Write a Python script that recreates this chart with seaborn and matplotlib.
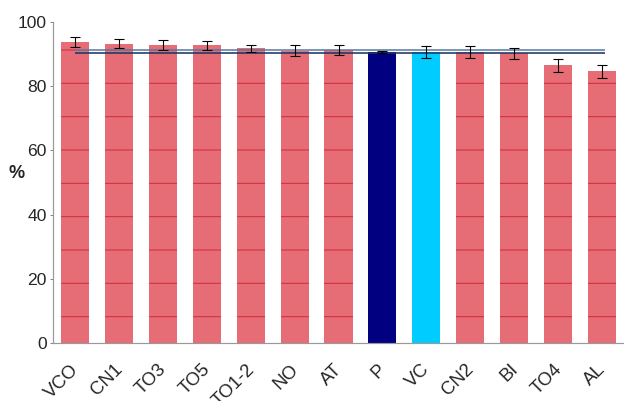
import numpy as np
import pandas as pd
import matplotlib
matplotlib.use("Agg")
import matplotlib.pyplot as plt
import matplotlib.transforms as mtransforms
import seaborn as sns

categories = ["VCO", "CN1", "TO3", "TO5", "TO1-2", "NO", "AT", "P", "VC", "CN2", "BI", "TO4", "AL"]
values = [93.7, 93.3, 92.8, 92.7, 91.8, 91.1, 91.2, 90.7, 90.7, 90.7, 90.2, 86.5, 84.6]
errors = [1.5, 1.3, 1.5, 1.3, 1.1, 1.6, 1.5, 0.4, 1.8, 1.8, 1.7, 2.1, 1.9]
ref_lines = [91.2, 90.3]
yticks = [0, 20, 40, 60, 80, 100]

red = "#e66c75"
colors = [red] * len(categories)
colors[categories.index("P")] = "#000080"
colors[categories.index("VC")] = "#00ccff"

DPI = 200
PX = 72 / DPI  # points per pixel
sns.set_theme(style="white")
plt.rcParams["font.family"] = ["Liberation Sans", "DejaVu Sans"]
plt.rcParams["hatch.linewidth"] = 0.35
plt.rcParams["hatch.color"] = "#d22c3a"

fig = plt.figure(figsize=(624 / DPI, 401 / DPI), dpi=DPI)
ax = fig.add_axes([53 / 624, 58 / 401, 571 / 624, 321 / 401])

df = pd.DataFrame({"cat": categories, "val": values})
sns.barplot(data=df, x="cat", y="val", hue="cat", palette=colors, legend=False,
            width=0.64, ax=ax, saturation=1, linewidth=0)

for patch, c in zip(ax.patches, colors):
    if c == red:
        patch.set_hatch("-")
        patch.set_edgecolor("#d22c3a")
        patch.set_linewidth(0)

n = len(categories)
ax.hlines(ref_lines[0], 0, n - 1 + 0.07, colors="#5d7fa6", lw=1.6 * PX, zorder=4)
ax.hlines(ref_lines[1], 0, n - 1 + 0.07, colors="#1f3864", lw=1.6 * PX, zorder=4)

ax.errorbar(np.arange(n), values, yerr=errors, fmt="none",
            ecolor="black", elinewidth=1.1 * PX, capsize=5 * PX,
            capthick=1.1 * PX, zorder=5)

ax.set_xlim(-0.5, n - 0.5)
ax.set_ylim(0, 100)
ax.set_yticks(yticks)
ax.set_yticklabels([str(t) for t in yticks])
ax.set_xticks(range(n))
ax.set_xticklabels(categories, rotation=45, ha="right", rotation_mode="anchor")
ax.tick_params(axis="y", length=3 * PX, width=1 * PX, color="#888888", pad=3 * PX,
               labelsize=17.5 * PX, left=True)
ax.tick_params(axis="x", length=0, pad=0, labelsize=18.5 * PX)
offset = mtransforms.ScaledTranslation(-5 / DPI, -18 / DPI, fig.dpi_scale_trans)
for lab in ax.get_xticklabels():
    lab.set_transform(lab.get_transform() + offset)
ax.set_xlabel("")
ax.set_ylabel("%", rotation=0, fontweight="bold", fontsize=18 * PX, labelpad=0)
ax.yaxis.set_label_coords(-0.063, 0.5)
for s in ["top", "right"]:
    ax.spines[s].set_visible(False)
for s in ["left", "bottom"]:
    ax.spines[s].set_color("#999999")
    ax.spines[s].set_linewidth(1.2 * PX)

fig.savefig("out.png", dpi=DPI)
